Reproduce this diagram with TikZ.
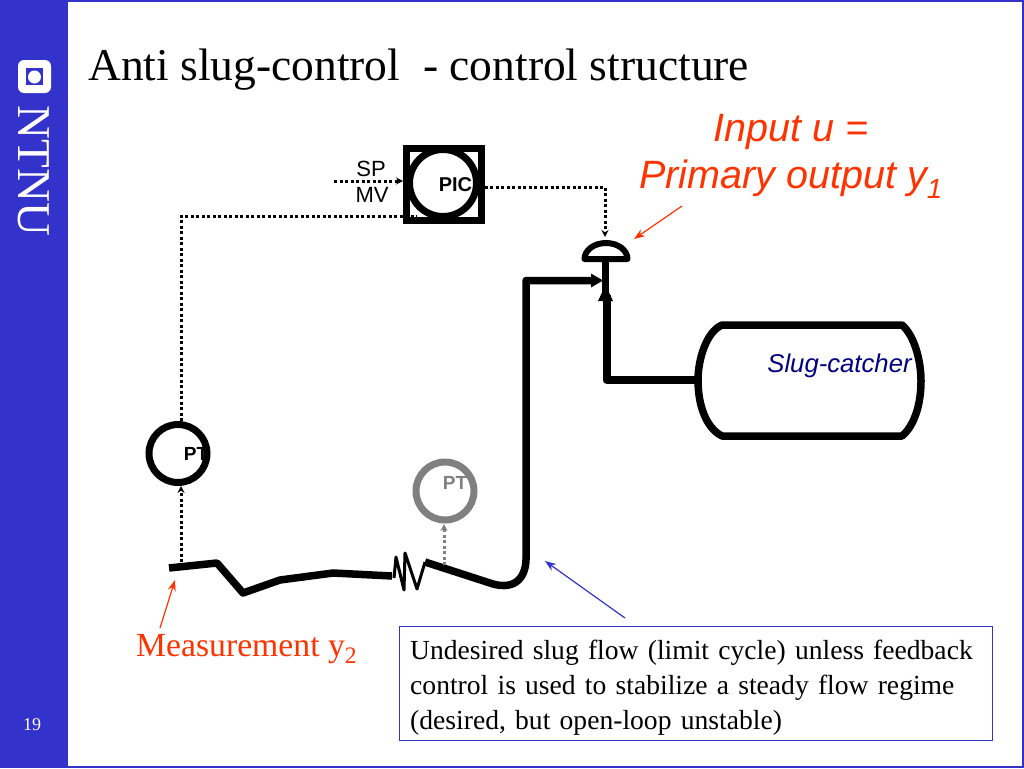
\documentclass[tikz,border=0pt]{standalone}
\usepackage{fontspec}
\setmainfont{Liberation Serif}
\setsansfont{Liberation Sans}
\usetikzlibrary{arrows.meta,calc}
\definecolor{ntnublue}{RGB}{51,51,204}
\definecolor{inputred}{RGB}{255,51,0}
\definecolor{catchernavy}{RGB}{0,0,128}
\definecolor{ptgray}{RGB}{128,128,128}

\begin{document}
\begin{tikzpicture}[
  x=1pt,y=-1pt,
  ring/.style={circle,draw=black,line width=7pt,minimum size=58pt,inner sep=0pt},
  tag/.style={font=\fontsize{19}{22}\selectfont\sffamily\bfseries,inner sep=0pt},
  sigdots/.style={line width=3pt,dash pattern=on 3pt off 2.5pt},
  sigline/.style={sigdots,-{Stealth[length=7pt,width=7pt]}},
  pipe/.style={line width=7.5pt,line join=round},
  callout/.style={-{Stealth[length=11pt,width=8pt]},line width=1.2pt},
  redlbl/.style={text=inputred,inner sep=0pt}
]
\useasboundingbox (0,0) rectangle (1024,768);
% ---------------- slide frame ----------------
\fill[ntnublue] (0,0) rectangle (68,768);
\draw[ntnublue,line width=2pt] (68,1) -- (1023,1) -- (1023,767) -- (68,767);
\fill[white,rounded corners=6pt] (18,60) rectangle (51,93);
\fill[ntnublue] (26,68) rectangle (43,85);
\fill[white] (34.5,77) circle (6.5);
\node[rotate=-90,text=white,inner sep=0pt,font=\fontsize{47}{47}\selectfont] (logo) at (34,171) {NTNU};
\node[text=white,font=\fontsize{18}{20}\selectfont,inner sep=0pt] (page) at (32,725) {19};
\node[anchor=west,inner sep=0pt,font=\fontsize{45.5}{50}\selectfont] (title) at (88,70) {Anti slug-control\ \ - control structure};
% ---------------- controller and transmitters ----------------
\node[draw=black,line width=7pt,minimum width=75pt,minimum height=72pt,inner sep=0pt] (picbox) at (443.5,184) {};
\node[circle,draw=black,line width=7pt,minimum size=67pt,inner sep=0pt] (pic) at (443,183) {};
\node[tag,font=\fontsize{20}{22}\selectfont\sffamily\bfseries] (pictxt) at (455.5,185) {PIC};
\node[tag] (pt1txt) at (196,454) {PT};
\node[ring] (pt1) at (178,453.5) {};
\node[tag,text=ptgray] (pt2txt) at (455,483) {PT};
\node[ring,draw=ptgray] (pt2) at (445,491) {};
\node[font=\fontsize{22}{24}\selectfont\sffamily,inner sep=0pt] (sp) at (371,169) {SP};
\node[font=\fontsize{22}{24}\selectfont\sffamily,inner sep=0pt] (mv) at (372,195) {MV};
% ---------------- valve and tank ----------------
\coordinate (vtop) at (605.5,261);
\coordinate (sep) at (606.5,380);
\draw[line width=6pt,line join=round] (584.5,259) arc[start angle=180,end angle=360,x radius=21.5,y radius=16] -- cycle;
\draw[line width=7pt] (vtop) -- (605.5,295);
\draw[line width=8pt,line join=round] (606.5,295) -- (sep) -- (699,380);
\fill (605.5,285) -- (598,301) -- (613,301) -- cycle;
\coordinate (tl) at (722,325);
\coordinate (tr) at (902,325);
\coordinate (bl) at (722,436);
\coordinate (br) at (902,436);
\draw[pipe] (tl) -- (tr) .. controls (914,335) and (921,360) .. (921,381) .. controls (921,405) and (914,426) .. (br) -- (bl)
  .. controls (706,428) and (698,405) .. (698,380) .. controls (698,360) and (706,332) .. (tl) -- cycle;
\node[text=catchernavy,inner sep=0pt,font=\fontsize{25.7}{28}\selectfont\sffamily\itshape] (catcher) at (839.5,366) {Slug-catcher};
% ---------------- flow line ----------------
\draw[pipe] (169,568) -- (217,563) -- (243,593) -- (280,580) -- (333,573) -- (392,576);
\draw[line width=3pt,line join=round] (394,578) -- (396,557) -- (404,590) -- (405,553) -- (417,589) -- (425,562);
\coordinate (riser) at (526,280.5);
\draw[pipe] (425,562) -- (493,584) .. controls (515,590) and (527,578) .. (526,555) -- (riser) -- (592,280.5);
\fill (603,280.5) -- (591,273.5) -- (591,287.5) -- cycle;
% ---------------- signal lines ----------------
\coordinate (spin) at (334,181);
\coordinate (mvcorner) at (181,216);
\coordinate (outcorner) at (605,187);
\coordinate (sense1) at (181,562);
\coordinate (sense2) at (444,565);
\draw[sigline] (spin) -- (403,181);
\draw[sigdots] (pt1.north -| mvcorner) -- (mvcorner) -- (pic.south west |- mvcorner);
\draw[sigline] (picbox.east |- outcorner) -- (outcorner) -- (605,237);
\draw[sigline] (sense1) -- (181,486);
\draw[sigline,draw=ptgray,color=ptgray] (sense2) -- (444,524);
% ---------------- labels and callouts ----------------
\node[redlbl,font=\fontsize{39.5}{47}\selectfont\sffamily\itshape,align=center] (input) at (791,156.5) {Input u =\\Primary output y\textsubscript{1}};
\node[redlbl,anchor=west,font=\fontsize{33.7}{38}\selectfont] (meas) at (136,649) {Measurement y\textsubscript{2}};
\node[draw=ntnublue,line width=1pt,anchor=north west,minimum width=593pt,minimum height=114pt] (note) at (399,626) {};
\node[anchor=north west,inner sep=0pt,text width=571pt,align=left,font=\fontsize{27.6}{35}\selectfont] (notetxt) at (410,640)
  {Undesired slug flow (limit cycle) unless feedback\\control is used to stabilize a steady flow regime\\(desired, but open-loop unstable)};
\coordinate (inputtip) at (682,206);
\coordinate (meastip) at (160,628);
\coordinate (notetip) at (625,618);
\draw[callout,draw=inputred,color=inputred] (inputtip) -- (634,239);
\draw[callout,draw=inputred,color=inputred] (meastip) -- (175,580);
\draw[callout,draw=ntnublue,color=ntnublue] (notetip) -- (545,561);
\end{tikzpicture}
\end{document}
